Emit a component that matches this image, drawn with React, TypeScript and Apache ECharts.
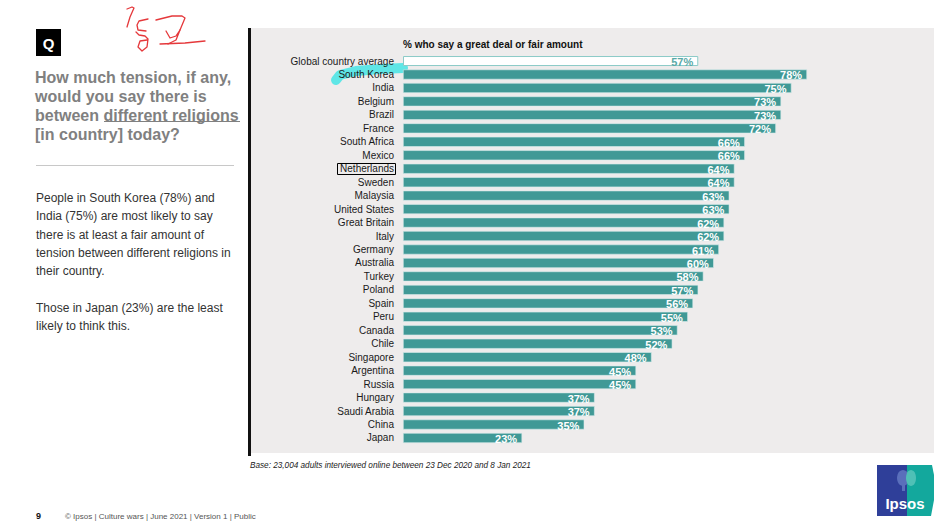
import React, { useEffect, useRef } from "react";
import * as echarts from "echarts";

const countries = [
  "Global country average", "South Korea", "India", "Belgium", "Brazil", "France",
  "South Africa", "Mexico", "Netherlands", "Sweden", "Malaysia", "United States",
  "Great Britain", "Italy", "Germany", "Australia", "Turkey", "Poland", "Spain",
  "Peru", "Canada", "Chile", "Singapore", "Argentina", "Russia", "Hungary",
  "Saudi Arabia", "China", "Japan",
];
const values = [
  57, 78, 75, 73, 73, 72, 66, 66, 64, 64, 63, 63, 62, 62, 61, 60, 58, 57, 56, 55,
  53, 52, 48, 45, 45, 37, 37, 35, 23,
];
const questionLines = [
  "How much tension, if any,",
  "would you say there is",
  "between different religions",
  "[in country] today?",
];
const bodyLines = [
  "People in South Korea (78%) and",
  "India (75%) are most likely to say",
  "there is at least a fair amount of",
  "tension between different religions in",
  "their country.",
  "",
  "Those in Japan (23%) are the least",
  "likely to think this.",
];
const chartTitle = "% who say a great deal or fair amount";
const baseNote = "Base: 23,004 adults interviewed online between 23 Dec 2020 and 8 Jan 2021";
const footer = "© Ipsos | Culture wars | June 2021 | Version 1 | Public";

const FONT = "'Liberation Sans', Arial, Helvetica, sans-serif";
const TEAL = "#409996";

export default function App() {
  const ref = useRef<HTMLDivElement>(null);
  useEffect(() => {
    if (!ref.current) return;
    const chart = echarts.init(ref.current, undefined, { renderer: "svg" });

    const graphics: any[] = [];
    // grey panel
    graphics.push({ type: "rect", z: -10, shape: { x: 250, y: 28, width: 684, height: 425 }, style: { fill: "#eeecec" } });
    graphics.push({ type: "rect", z: -9, shape: { x: 248, y: 28, width: 3, height: 428 }, style: { fill: "#111" } });
    // Q box
    graphics.push({ type: "rect", shape: { x: 36, y: 29, width: 25, height: 27 }, style: { fill: "#000" } });
    graphics.push({ type: "text", style: { text: "Q", x: 48.5, y: 43, fill: "#fff", font: `bold 15px ${FONT}`, textAlign: "center", textVerticalAlign: "middle" } });
    // question
    questionLines.forEach((t, i) => {
      graphics.push({ type: "text", style: { text: t, x: 35, y: 77 + i * 19.3, fill: "#808080", font: `bold 16px ${FONT}`, textAlign: "left", textVerticalAlign: "middle" } });
    });
    graphics.push({ type: "line", shape: { x1: 104, y1: 121.5, x2: 240, y2: 121.5 }, style: { stroke: "#808080", lineWidth: 1.2 } });
    // separator
    graphics.push({ type: "line", shape: { x1: 36, y1: 165.5, x2: 234, y2: 165.5 }, style: { stroke: "#c8c8c8", lineWidth: 1 } });
    bodyLines.forEach((t, i) => {
      if (!t) return;
      graphics.push({ type: "text", style: { text: t, x: 36, y: 198 + i * 18.3, fill: "#333", font: `12px ${FONT}`, textAlign: "left", textVerticalAlign: "middle" } });
    });
    // chart title
    graphics.push({ type: "text", style: { text: chartTitle, x: 403, y: 44, fill: "#111", font: `bold 10px ${FONT}`, textAlign: "left", textVerticalAlign: "middle" } });
    // base note
    graphics.push({ type: "text", style: { text: baseNote, x: 250, y: 465, fill: "#222", font: `italic 8.2px ${FONT}`, textAlign: "left", textVerticalAlign: "middle" } });
    // footer
    graphics.push({ type: "text", style: { text: "9", x: 36, y: 516, fill: "#111", font: `bold 9px ${FONT}`, textAlign: "left", textVerticalAlign: "middle" } });
    graphics.push({ type: "text", style: { text: footer, x: 65, y: 516, fill: "#555", font: `8px ${FONT}`, textAlign: "left", textVerticalAlign: "middle" } });
    // South Korea highlight
    graphics.push({ type: "polyline", z: -5, shape: { points: [[336, 80], [340, 75], [356, 71], [380, 69], [403, 68]] }, style: { stroke: "#4fe6e6", lineWidth: 10, lineCap: "round", lineJoin: "round", fill: null, opacity: 0.9 } });
    // Netherlands box
    graphics.push({ type: "rect", z: 5, shape: { x: 337.5, y: 163.5, width: 58, height: 11 }, style: { fill: null, stroke: "#000", lineWidth: 1 } });
    // handwriting
    const red = { stroke: "#e5383b", lineWidth: 1.3, fill: null, lineCap: "round", lineJoin: "round" };
    graphics.push({ type: "polyline", shape: { points: [[127, 9], [132, 7], [134, 8], [130, 17], [127, 27]] }, style: red });
    graphics.push({ type: "polyline", shape: { points: [[148, 19], [139, 21], [137, 25], [138, 30], [146, 31]] }, style: red });
    graphics.push({ type: "polyline", shape: { points: [[136, 32], [139, 35], [145, 36], [148, 39], [147, 47], [142, 51], [138, 47], [140, 41], [147, 40]] }, style: red });
    graphics.push({ type: "polyline", shape: { points: [[156, 20], [172, 16], [182, 16], [185, 18], [180, 30]] }, style: red });
    graphics.push({ type: "polyline", shape: { points: [[166, 31], [170, 38], [176, 36], [180, 30], [176, 40], [168, 44]] }, style: red });
    graphics.push({ type: "polyline", shape: { points: [[160, 44], [185, 43], [205, 41]] }, style: red });
    // Ipsos logo
    graphics.push({ type: "rect", shape: { x: 877, y: 465, width: 31, height: 51 }, style: { fill: "#2f3f99" } });
    graphics.push({ type: "polygon", shape: { points: [[907, 465], [932, 465], [934, 475], [934, 500], [931, 516], [907, 516]] }, style: { fill: "#13a89d" } });
    graphics.push({ type: "ellipse", shape: { cx: 903, cy: 478, rx: 6, ry: 8 }, style: { fill: "#5a6fbb" } });
    graphics.push({ type: "rect", shape: { x: 902, y: 485, width: 3, height: 6 }, style: { fill: "#5a6fbb" } });
    graphics.push({ type: "ellipse", shape: { cx: 911, cy: 478, rx: 5, ry: 8 }, style: { fill: "#4fc0b6" } });
    graphics.push({ type: "text", style: { text: "Ipsos", x: 905, y: 503, fill: "#fff", font: `bold 15px ${FONT}`, textAlign: "center", textVerticalAlign: "middle" } });

    const data = values.map((v, i) =>
      i === 0
        ? {
            value: v,
            itemStyle: { color: "#ffffff", borderColor: "#8ccbc8", borderWidth: 1 },
            label: { color: "#5aa9a6" },
          }
        : { value: v }
    );

    chart.setOption({
      animation: false,
      backgroundColor: "#ffffff",
      textStyle: { fontFamily: FONT },
      grid: { left: 403, right: 28, top: 54.3, bottom: 85.3, containLabel: false },
      xAxis: { type: "value", min: 0, max: 100, show: false },
      yAxis: {
        type: "category",
        data: countries,
        inverse: true,
        axisLine: { show: false },
        axisTick: { show: false },
        splitLine: { show: false },
        axisLabel: { color: "#1a1a1a", fontSize: 10, fontFamily: FONT, margin: 9 },
      },
      series: [
        {
          type: "bar",
          data,
          barWidth: 10,
          itemStyle: { color: TEAL, borderColor: "#d9ecec", borderWidth: 0.6 },
          label: {
            show: true,
            position: "insideRight",
            distance: 5,
            offset: [0, 1],
            formatter: "{c}%",
            color: "#ffffff",
            fontSize: 11,
            fontWeight: "bold",
            fontFamily: FONT,
          },
        },
      ],
      graphic: { elements: graphics },
    });
    return () => chart.dispose();
  }, []);
  return (
    <div
      ref={ref}
      style={{ position: "absolute", left: 0, top: 0, width: 949, height: 530 }}
    />
  );
}
